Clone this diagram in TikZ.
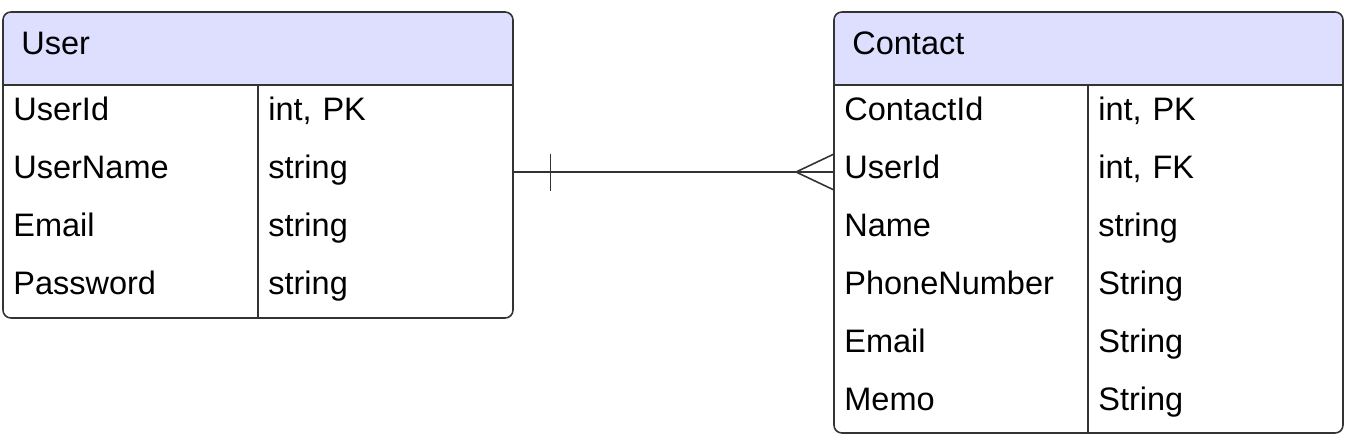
\documentclass[tikz,border=0pt]{standalone}
\usepackage{fontspec}
\setmainfont{Liberation Sans}
\usepackage{tikz}
\definecolor{headfill}{HTML}{DEDEFF}
\definecolor{linegray}{HTML}{333333}
\tikzset{
  frame/.style={draw=linegray, line width=0.9pt},
  cell/.style={anchor=west, text width=4.7cm, align=left, inner xsep=0.2cm, inner ysep=0pt,
    minimum height=1.16cm, text height=0.92em, text depth=0.18em, font=\fontsize{18.5}{22}\selectfont},
  head/.style={cell, inner xsep=0.36cm},
}
\begin{document}
\begin{tikzpicture}[x=0.02cm, y=-0.02cm]
\useasboundingbox (0,0) rectangle (1350,440);

% User table
\begin{scope}
\clip[rounded corners=4.5pt] (3,12) rectangle (513,318);
\fill[headfill] (3,12) rectangle (513,85);
\end{scope}
\draw[frame, rounded corners=4.5pt] (3,12) rectangle (513,318);
\draw[frame] (3,85) -- (513,85);
\draw[frame] (258,85) -- (258,318);

\node[head] (U) at (3,48) {User};
\node[cell] (U1) at (3,114) {UserId};
\node[cell] (U1t) at (258,114) {int, PK};
\node[cell] (U2) at (3,172) {UserName};
\node[cell] (U2t) at (258,172) {string};
\node[cell] (U3) at (3,230) {Email};
\node[cell] (U3t) at (258,230) {string};
\node[cell] (U4) at (3,288) {Password};
\node[cell] (U4t) at (258,288) {string};

% Contact table
\begin{scope}
\clip[rounded corners=4.5pt] (834,12) rectangle (1343,433);
\fill[headfill] (834,12) rectangle (1343,85);
\end{scope}
\draw[frame, rounded corners=4.5pt] (834,12) rectangle (1343,433);
\draw[frame] (834,85) -- (1343,85);
\draw[frame] (1088,85) -- (1088,433);

\node[head] (C) at (834,48) {Contact};
\node[cell] (C1) at (834,114) {ContactId};
\node[cell] (C1t) at (1088,114) {int, PK};
\node[cell] (C2) at (834,172) {UserId};
\node[cell] (C2t) at (1088,172) {int, FK};
\node[cell] (C3) at (834,230) {Name};
\node[cell] (C3t) at (1088,230) {string};
\node[cell] (C4) at (834,288) {PhoneNumber};
\node[cell] (C4t) at (1088,288) {String};
\node[cell] (C5) at (834,346) {Email};
\node[cell] (C5t) at (1088,346) {String};
\node[cell] (C6) at (834,404) {Memo};
\node[cell] (C6t) at (1088,404) {String};

% one to many
\draw[frame] (U2t.east) -- (C2.west);
\draw[frame] ([xshift=0.74cm, yshift=0.37cm]U2t.east) -- ([xshift=0.74cm, yshift=-0.37cm]U2t.east);
\draw[frame] ([yshift=0.36cm]C2.west) -- ([xshift=-0.76cm]C2.west) -- ([yshift=-0.36cm]C2.west);
\end{tikzpicture}
\end{document}
